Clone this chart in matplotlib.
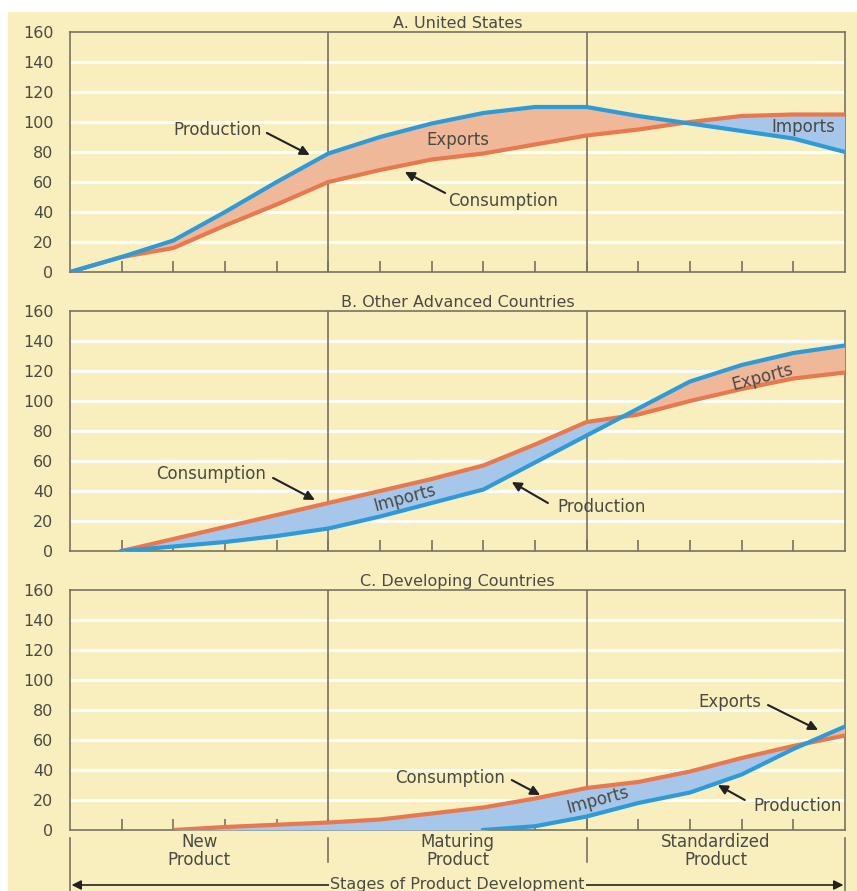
import numpy as np
import matplotlib.pyplot as plt
from matplotlib.patches import Rectangle

# stage positions 0..15 along the product life cycle
x = np.arange(16)
nan = np.nan

# A. United States
prod_a = [0, 10, 21, 40, 60, 79, 90, 99, 106, 110, 110, 104, 99, 94, 89, 80]
cons_a = [0, 10, 16, 31, 45, 60, 68, 75, 79, 85, 91, 95, 100, 104, 105, 105]

# B. Other advanced countries
prod_b = [nan, 0, 3, 6, 10, 15, 23, 32, 41, 59, 77, 95, 113, 124, 132, 137]
cons_b = [nan, 0, 8, 16, 24, 32, 40, 48, 57, 71, 86, 91, 100, 108, 115, 119]

# C. Developing countries
prod_c = [nan, nan, 0, 0, 0, 0, 0, 0, 0, 2.5, 9, 18, 25, 37, 54, 69]
cons_c = [nan, nan, 0, 2, 3.5, 5, 7, 11, 15, 21, 28, 32, 39, 48, 56, 63]

titles = ["A. United States", "B. Other Advanced Countries", "C. Developing Countries"]
stages = ["New\nProduct", "Maturing\nProduct", "Standardized\nProduct"]
yticks = [0, 20, 40, 60, 80, 100, 120, 140, 160]

bg = "#f9efbe"
blue = "#2f9ad8"
blue_fill = "#a6c7ea"
orange = "#e8784e"
orange_fill = "#efb899"
frame = "#77735f"
txt = "#4a4a44"

W, H = 857, 891
fig = plt.figure(figsize=(W / 100, H / 100), dpi=100)
fig.patch.set_facecolor("white")
fig.patches.append(Rectangle((8 / W, 0), 1, (H - 12) / H, transform=fig.transFigure,
                             facecolor=bg, edgecolor="none", zorder=-10))

# panel tops / bottoms in pixels from top of image
panels = [(32, 272), (311, 551), (590, 830)]
data = [(prod_a, cons_a), (prod_b, cons_b), (prod_c, cons_c)]
axes = []
for (top, bot), title, (p, c) in zip(panels, titles, data):
    ax = fig.add_axes([70 / W, (H - bot) / H, 775 / W, (bot - top) / H])
    ax.set_facecolor(bg)
    ax.set_xlim(0, 15)
    ax.set_ylim(0, 160)
    for yy in yticks[1:-1]:
        ax.axhline(yy, color="white", lw=2, zorder=1)
    for xv in (5, 10):
        ax.axvline(xv, color=frame, lw=1.2, zorder=2)
    p = np.array(p, dtype=float)
    c = np.array(c, dtype=float)
    ok = ~np.isnan(p)
    ax.fill_between(x[ok], p[ok], c[ok], where=p[ok] >= c[ok], interpolate=True,
                    color=orange_fill, lw=0, zorder=3)
    ax.fill_between(x[ok], p[ok], c[ok], where=p[ok] <= c[ok], interpolate=True,
                    color=blue_fill, lw=0, zorder=3)
    ax.plot(x, c, color=orange, lw=3, solid_capstyle="butt", zorder=4)
    ax.set_xticks(range(1, 15))
    ax.set_xticklabels([])
    ax.set_yticks(yticks)
    ax.tick_params(axis="x", direction="in", length=8, width=1.2, color=frame)
    ax.tick_params(axis="y", length=0, pad=12, labelsize=11.5, labelcolor=txt)
    for s in ax.spines.values():
        s.set_color(frame)
        s.set_linewidth(1.2)
    ax.set_title(title, fontsize=11.5, color=txt, pad=3)
    axes.append((ax, p, ok))

# production lines (C only drawn once it leaves zero)
for i, (ax, p, ok) in enumerate(axes):
    if i == 2:
        m = x >= 8
        ax.plot(x[m], p[m], color=blue, lw=3, zorder=5)
    else:
        ax.plot(x, p, color=blue, lw=3, zorder=5)

ax_a, ax_b, ax_c = axes[0][0], axes[1][0], axes[2][0]
arr = dict(arrowstyle="-|>", color="#222222", lw=1.5, mutation_scale=14, shrinkA=0, shrinkB=0)
fs = 12


def note(ax, label, pos, tail=None, head=None, rot=0, ha="center"):
    ax.text(pos[0], pos[1], label, fontsize=fs, color=txt, ha=ha, va="center",
            rotation=rot, rotation_mode="anchor", zorder=6)
    if tail is not None:
        ax.annotate("", xy=head, xytext=tail, arrowprops=arr, zorder=6)


note(ax_a, "Production", (3.72, 94.7), (3.81, 92.7), (4.64, 78), ha="right")
note(ax_a, "Exports", (7.51, 88))
note(ax_a, "Consumption", (7.32, 47.3), (7.26, 52.7), (6.48, 66.7), ha="left")
note(ax_a, "Imports", (14.19, 96.7))

note(ax_b, "Consumption", (3.79, 51.3), (3.93, 48.7), (4.74, 34), ha="right")
note(ax_b, "Imports", (6.48, 35.3), rot=15)
note(ax_b, "Production", (9.44, 29.3), (9.25, 32), (8.55, 46), ha="left")
note(ax_b, "Exports", (13.41, 116), rot=15)

note(ax_c, "Exports", (13.39, 85.3), (13.51, 83.3), (14.48, 66.7), ha="right")
note(ax_c, "Consumption", (8.42, 34.7), (8.55, 33.3), (9.1, 23.3), ha="right")
note(ax_c, "Imports", (10.22, 20), rot=15)
note(ax_c, "Production", (13.22, 16), (13.06, 20), (12.54, 30), ha="left")

# stage labels strip under the last panel (y in pixels from bottom)
lab = fig.add_axes([70 / W, 0, 775 / W, 61 / H])
lab.set_xlim(0, 15)
lab.set_ylim(0, 61)
lab.axis("off")
for xv in (0, 15):
    lab.plot([xv, xv], [53, 0], color=frame, lw=1.2, clip_on=False)
for xv in (5, 10):
    lab.plot([xv, xv], [53, 29], color=frame, lw=1.2, clip_on=False)
for i, s in enumerate(stages):
    lab.text(2.5 + 5 * i, 40, s, ha="center", va="center", fontsize=fs,
             color=txt, linespacing=1.0)
lab.annotate("", xy=(0.03, 6), xytext=(14.97, 6),
             arrowprops=dict(arrowstyle="<|-|>", color="#222222", lw=1.2,
                             mutation_scale=14, shrinkA=0, shrinkB=0))
lab.text(7.5, 6, "Stages of Product Development", ha="center", va="center",
         fontsize=11.5, color=txt, zorder=5,
         bbox=dict(facecolor=bg, edgecolor="none", pad=1))

plt.savefig("out.png", dpi=100)
